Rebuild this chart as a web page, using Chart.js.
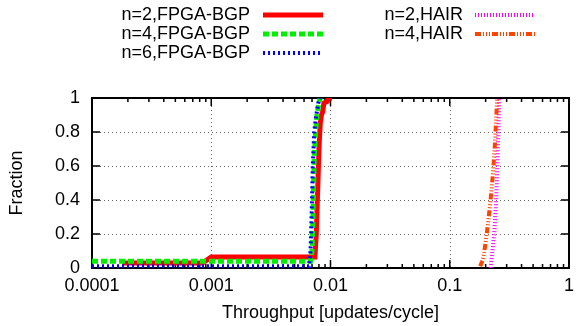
<!DOCTYPE html>
<html><head><meta charset="utf-8">
<script src="https://cdn.jsdelivr.net/npm/chart.js@4/dist/chart.umd.min.js"></script>
<style>html,body{margin:0;padding:0;background:#fff}#wrap{width:581px;height:326px}</style>
</head><body><div id="wrap"><canvas id="c" width="581" height="326"></canvas></div>
<script>
const seriesLabels = ['n=2,FPGA-BGP','n=4,FPGA-BGP','n=6,FPGA-BGP','n=2,HAIR','n=4,HAIR'];
const n2FpgaX = [0.00018,0.00085,0.00100,0.0074,0.0076,0.0078,0.0080,0.0082,0.0084,0.0086,0.0088,0.0094,0.0096,0.0103];
const n2FpgaY = [0.03,0.03,0.065,0.065,0.2,0.45,0.7,0.85,0.9,0.92,0.97,0.98,1,1];
const n4FpgaX = [0.0001,0.0068,0.0070,0.0071,0.0072,0.0073,0.0075,0.0077,0.0080,0.0082];
const n4FpgaY = [0.04,0.04,0.1,0.25,0.45,0.65,0.8,0.9,0.97,1];
const n6FpgaX = [0.0001,0.0066,0.0068,0.0069,0.0070,0.0071,0.0073,0.0076,0.0079,0.0082];
const n6FpgaY = [0.01,0.01,0.1,0.25,0.4,0.6,0.8,0.9,0.97,1];
const n2HairX = [0.22,0.228,0.236,0.243,0.248,0.252,0.256,0.26];
const n2HairY = [0,0.1,0.2,0.35,0.5,0.65,0.8,1];
const n4HairX = [0.18,0.19,0.20,0.21,0.22,0.23,0.238,0.244,0.25];
const n4HairY = [0.01,0.05,0.15,0.27,0.4,0.55,0.7,0.85,1];
const xTickValues = [0.0001,0.001,0.01,0.1,1];
const xTickLabels = ['0.0001','0.001','0.01','0.1','1'];
const yTickValues = [0,0.2,0.4,0.6,0.8,1];
const yTickLabels = ['0','0.2','0.4','0.6','0.8','1'];

const FONT = '"Liberation Sans", Arial, Helvetica, sans-serif';
const FS = 18;
const pts = (xs,ys)=>xs.map((x,i)=>({x:x,y:ys[i]}));

const styles = [
  {color:'#ff0000', width:5, dash:[]},
  {color:'#00ee00', width:5, dash:[6,3]},
  {color:'#0000ff', width:4, dash:[2,3]},
  {color:'#ff00ff', width:4, dash:[1,2]},
  {color:'#ff4400', width:4, dash:[6,2,1,2,1,2,1,2]}
];
const series = [[n2FpgaX,n2FpgaY],[n4FpgaX,n4FpgaY],[n6FpgaX,n6FpgaY],[n2HairX,n2HairY],[n4HairX,n4HairY]];
const datasets = series.map((s,i)=>({
  label: seriesLabels[i],
  data: pts(s[0],s[1]),
  borderColor: styles[i].color,
  borderWidth: styles[i].width,
  borderDash: styles[i].dash,
  pointRadius: 0,
  fill: false,
  tension: 0,
  order: 10 - i
}));

const framePlugin = {
  id: 'frame',
  beforeDatasetsDraw(chart){
    const {ctx, chartArea:a, scales:{x,y}} = chart;
    ctx.save();
    ctx.strokeStyle = '#666'; ctx.lineWidth = 1; ctx.setLineDash([1,3]);
    xTickValues.slice(1,-1).forEach(v=>{
      const px = Math.round(x.getPixelForValue(v))+0.5;
      ctx.beginPath(); ctx.moveTo(px,a.top); ctx.lineTo(px,a.bottom); ctx.stroke();
    });
    yTickValues.slice(1,-1).forEach(v=>{
      const py = Math.round(y.getPixelForValue(v))+0.5;
      ctx.beginPath(); ctx.moveTo(a.left,py); ctx.lineTo(a.right,py); ctx.stroke();
    });
    ctx.setLineDash([]);
    ctx.strokeStyle = '#000'; ctx.lineWidth = 2;
    ctx.strokeRect(a.left, a.top, a.right-a.left, a.bottom-a.top);
    ctx.lineWidth = 1.5;
    for (let d=-4; d<0; d++){
      for (let m=1; m<=9; m++){
        const v = m*Math.pow(10,d);
        const px = x.getPixelForValue(v);
        const len = m===1 ? 8 : 4;
        ctx.beginPath(); ctx.moveTo(px,a.bottom); ctx.lineTo(px,a.bottom-len);
        ctx.moveTo(px,a.top); ctx.lineTo(px,a.top+len); ctx.stroke();
      }
    }
    yTickValues.forEach(v=>{
      const py = y.getPixelForValue(v);
      ctx.beginPath(); ctx.moveTo(a.left,py); ctx.lineTo(a.left+8,py);
      ctx.moveTo(a.right,py); ctx.lineTo(a.right-8,py); ctx.stroke();
    });
    ctx.restore();
  }
};

const keyPlugin = {
  id: 'key',
  afterDraw(chart){
    const ctx = chart.ctx;
    ctx.save();
    ctx.font = FS + 'px ' + FONT;
    ctx.fillStyle = '#000';
    ctx.textAlign = 'right'; ctx.textBaseline = 'middle';
    const cols = [{tx:250, x0:263, x1:323},{tx:463, x0:475, x1:535}];
    const rowY = [15,34,53];
    chart.data.datasets.forEach((ds,i)=>{
      const c = cols[i<3?0:1], r = rowY[i<3?i:i-3];
      ctx.fillText(ds.label, c.tx, r);
      ctx.strokeStyle = ds.borderColor; ctx.lineWidth = ds.borderWidth;
      ctx.setLineDash(ds.borderDash);
      ctx.beginPath(); ctx.moveTo(c.x0, r); ctx.lineTo(c.x1, r); ctx.stroke();
    });
    ctx.restore();
  }
};

new Chart(document.getElementById('c'), {
  type: 'line',
  data: { datasets: datasets },
  options: {
    responsive: false, animation: false, devicePixelRatio: 1,
    layout: { padding: { top: 98, right: 7, left: 0, bottom: 0 } },
    plugins: { legend: {display:false}, tooltip: {enabled:false} },
    scales: {
      x: {
        type: 'logarithmic', min: 0.0001, max: 1,
        afterBuildTicks: s => { s.ticks = xTickValues.map(v=>({value:v})); },
        afterFit: s => { s.height = 58; },
        ticks: { autoSkip:false, maxRotation:0, padding: 7, color:'#000',
          font:{family:FONT, size:FS},
          callback: (v,i) => xTickLabels[i] },
        grid: { display:false, drawTicks:false },
        border: { display:false },
        title: { display:true, text:'Throughput [updates/cycle]', color:'#000',
          font:{family:FONT, size:FS}, padding:{top:0,bottom:2} }
      },
      y: {
        type: 'linear', min: 0, max: 1,
        afterBuildTicks: s => { s.ticks = yTickValues.map(v=>({value:v})); },
        afterFit: s => { s.width = 92; },
        ticks: { padding: 12, color:'#000', font:{family:FONT, size:FS},
          callback: (v,i) => yTickLabels[i] },
        grid: { display:false, drawTicks:false },
        border: { display:false },
        title: { display:true, text:'Fraction', color:'#000',
          font:{family:FONT, size:FS}, padding:{top:6,bottom:0} }
      }
    }
  },
  plugins: [framePlugin, keyPlugin]
});
</script></body></html>
